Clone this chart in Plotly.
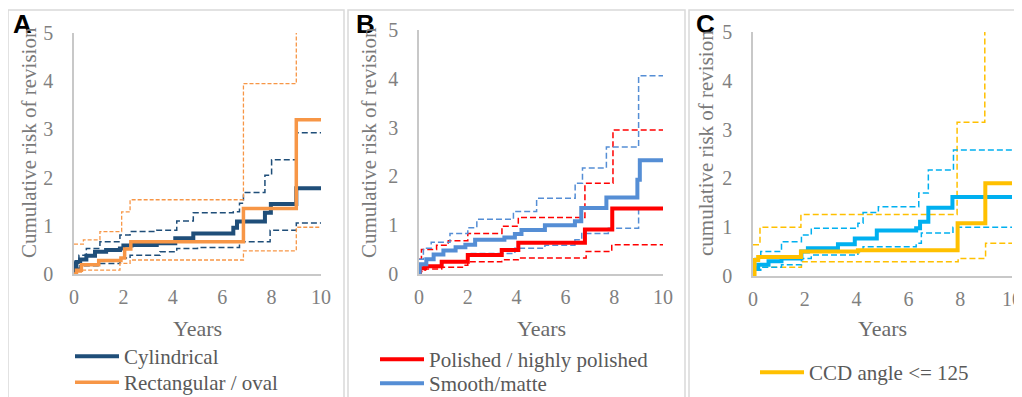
import plotly.graph_objects as go

# ---------------- data (years, cumulative risk of revision %) ----------------
# Panel A
cyl_t = [0, 0.05, 0.1, 0.25, 0.5, 0.85, 1.3, 1.86, 2.0, 2.33, 3.35, 4.1, 4.83, 6.45, 6.6, 7.73, 7.97, 9.0, 10]
cyl_y = [0, 0.15, 0.25, 0.3, 0.38, 0.46, 0.5, 0.53, 0.59, 0.6, 0.64, 0.74, 0.84, 0.96, 1.09, 1.27, 1.45, 1.78, 1.78]
cyl_hi_t = [0, 0.03, 0.2, 0.5, 1.05, 1.86, 2.27, 3.35, 4.16, 4.83, 6.45, 6.7, 6.86, 7.73, 8.0, 9.0, 10]
cyl_hi_y = [0, 0.25, 0.39, 0.53, 0.67, 0.81, 0.88, 0.91, 1.1, 1.27, 1.29, 1.47, 1.69, 2.05, 2.37, 2.93, 2.93]
cyl_lo_t = [0, 0.05, 0.24, 1.05, 1.86, 2.27, 3.48, 4.16, 5.0, 6.7, 7.94, 9.0, 10]
cyl_lo_y = [0, 0.12, 0.17, 0.22, 0.33, 0.39, 0.46, 0.53, 0.55, 0.67, 0.91, 1.06, 1.06]
rect_t = [0, 0.1, 0.3, 1.0, 1.9, 2.05, 2.3, 6.86, 9.0, 10]
rect_y = [0, 0.08, 0.19, 0.28, 0.33, 0.52, 0.67, 1.36, 3.2, 3.2]
rect_hi_t = [0, 0.38, 1.05, 1.93, 2.27, 6.86, 9.0, 10]
rect_hi_y = [0.62, 0.71, 0.88, 1.29, 1.54, 3.95, 5.4, 5.4]
rect_lo_t = [0, 0.1, 0.3, 1.86, 2.27, 6.86, 9.0, 10]
rect_lo_y = [0, 0.04, 0.08, 0.22, 0.29, 0.48, 0.97, 0.97]

# Panel B
pol_t = [0, 0.04, 0.25, 0.93, 2.0, 3.39, 4.07, 6.8, 7.92, 10]
pol_y = [0, 0.12, 0.16, 0.25, 0.39, 0.49, 0.64, 0.91, 1.34, 1.34]
pol_hi_t = [0, 0.1, 0.72, 1.2, 2.0, 3.4, 4.07, 6.8, 7.95, 10]
pol_hi_y = [0.3, 0.5, 0.59, 0.68, 0.83, 0.98, 1.16, 1.86, 2.95, 2.95]
pol_lo_t = [0, 0.04, 0.25, 0.93, 1.89, 2.0, 3.39, 4.07, 6.85, 7.9, 10]
pol_lo_y = [0, 0.05, 0.1, 0.14, 0.18, 0.25, 0.29, 0.33, 0.46, 0.6, 0.6]
smo_t = [0, 0.03, 0.3, 0.6, 1.0, 1.5, 1.9, 2.3, 3.5, 3.93, 4.2, 5.16, 6.39, 6.65, 7.68, 8.95, 9.05, 10]
smo_y = [0, 0.2, 0.3, 0.4, 0.48, 0.55, 0.6, 0.7, 0.75, 0.82, 0.9, 1.0, 1.08, 1.35, 1.57, 1.93, 2.33, 2.33]
smo_hi_t = [0, 0.18, 0.5, 1.27, 2.0, 2.37, 3.87, 4.82, 6.4, 6.7, 7.68, 9.0, 10]
smo_hi_y = [0.3, 0.53, 0.65, 0.83, 0.95, 1.12, 1.28, 1.55, 1.86, 2.17, 2.6, 4.06, 4.06]
smo_lo_t = [0, 0.04, 0.93, 2.0, 3.93, 5.16, 6.39, 6.67, 7.76, 9.0, 10]
smo_lo_y = [0, 0.14, 0.25, 0.42, 0.53, 0.59, 0.7, 0.83, 0.94, 1.34, 1.34]

# Panel C
le_t = [0, 0.06, 0.2, 1.85, 4.05, 7.9, 8.97, 10]
le_y = [0, 0.33, 0.39, 0.5, 0.53, 1.08, 1.9, 1.9]
le_hi_t = [0, 0.27, 1.85, 7.88, 8.95, 10]
le_hi_y = [0.64, 1.0, 1.26, 3.15, 5.4, 5.4]
le_lo_t = [0, 0.06, 0.2, 1.87, 7.92, 8.98, 10]
le_lo_y = [0, 0.12, 0.18, 0.29, 0.36, 0.67, 0.67]
gt_t = [0, 0.03, 0.2, 0.6, 1.1, 1.87, 2.12, 3.28, 3.93, 4.78, 6.3, 6.45, 6.77, 7.7, 10]
gt_y = [0, 0.16, 0.23, 0.3, 0.36, 0.5, 0.57, 0.65, 0.77, 0.93, 0.98, 1.11, 1.4, 1.62, 1.62]
gt_hi_t = [0, 0.03, 0.3, 1.1, 1.87, 2.25, 4.05, 4.25, 4.84, 6.4, 6.77, 7.74, 10]
gt_hi_y = [0.2, 0.36, 0.5, 0.7, 0.84, 0.98, 1.08, 1.3, 1.42, 1.7, 2.17, 2.58, 2.58]
gt_lo_t = [0, 0.03, 0.3, 1.1, 1.87, 2.25, 4.05, 4.25, 6.3, 6.5, 7.72, 10]
gt_lo_y = [0, 0.12, 0.18, 0.23, 0.36, 0.43, 0.5, 0.6, 0.67, 0.88, 1.0, 1.0]

x_ticks = [0, 2, 4, 6, 8, 10]
y_ticks = [0, 1, 2, 3, 4, 5]
panel_letters = ["A", "B", "C"]
y_titles = ["Cumulative risk of revision", "Cumulative risk of revision", "cumulative risk of revision"]
x_title = "Years"

# ---------------- styling ----------------
# the page body adds an 8px margin, so the figure is drawn 8px in from the window's corner
OFF = 8
W, H = 1022 - OFF, 397 - OFF
SERIF = "Liberation Serif"
C_CYL, C_RECT = "#1F4E79", "#F79646"
C_POL, C_SMO = "#FF0000", "#558ED5"
C_LE, C_GT = "#FFC000", "#00B0F0"
DASH = "6px,3px"

def px(x):
    return (x - OFF) / W

def py(y):
    return 1 - (y - OFF) / H

fig = go.Figure()

def add(t, y, color, width, axis, name=None, legend=None, dash=None):
    fig.add_trace(go.Scatter(
        x=t, y=y, mode="lines", line=dict(color=color, width=width, shape="hv", dash=dash),
        name=name, showlegend=name is not None, legend=legend,
        xaxis="x" + axis, yaxis="y" + axis, hoverinfo="skip"))

# Panel A
add(cyl_hi_t, cyl_hi_y, C_CYL, 1.5, "", dash=DASH)
add(cyl_lo_t, cyl_lo_y, C_CYL, 1.5, "", dash=DASH)
add(rect_hi_t, rect_hi_y, C_RECT, 1.3, "", dash="4px,2px")
add(rect_lo_t, rect_lo_y, C_RECT, 1.3, "", dash="4px,2px")
add(cyl_t, cyl_y, C_CYL, 4, "", name="Cylindrical", legend="legend")
add(rect_t, rect_y, C_RECT, 3.5, "", name="Rectangular / oval", legend="legend2")
# Panel B
add(pol_hi_t, pol_hi_y, C_POL, 1.5, "2", dash=DASH)
add(pol_lo_t, pol_lo_y, C_POL, 1.5, "2", dash=DASH)
add(smo_hi_t, smo_hi_y, C_SMO, 1.5, "2", dash=DASH)
add(smo_lo_t, smo_lo_y, C_SMO, 1.5, "2", dash=DASH)
add(pol_t, pol_y, C_POL, 4, "2", name="Polished / highly polished", legend="legend3")
add(smo_t, smo_y, C_SMO, 4, "2", name="Smooth/matte", legend="legend4")
# Panel C
add(le_hi_t, le_hi_y, C_LE, 1.5, "3", dash=DASH)
add(le_lo_t, le_lo_y, C_LE, 1.5, "3", dash=DASH)
add(gt_hi_t, gt_hi_y, C_GT, 1.5, "3", dash=DASH)
add(gt_lo_t, gt_lo_y, C_GT, 1.5, "3", dash=DASH)
add(gt_t, gt_y, C_GT, 4, "3")
add(le_t, le_y, C_LE, 4, "3", name="CCD angle <= 125", legend="legend5")

# plot areas in window pixels: (left, right, top(y=5), bottom(y=0))
areas = [(74, 321, 33, 274), (419, 663, 30, 274), (753, 1012, 32, 276)]
tickfont = dict(family=SERIF, size=20, color="#808080")
axis_common = dict(showgrid=False, zeroline=False, showline=True, linecolor="#c8c8c8",
                   linewidth=1.5, ticks="", tickfont=tickfont, fixedrange=True, automargin=False)
lay = {}
for i, (l, r, t, b) in enumerate(areas):
    sfx = "" if i == 0 else str(i + 1)
    lay["xaxis" + sfx] = dict(domain=[px(l), px(r)], range=[0, 10], tickvals=x_ticks,
                              anchor="y" + sfx, ticklabelstandoff=4, **axis_common)
    lay["yaxis" + sfx] = dict(domain=[py(b), py(t)], range=[0, 5], tickvals=y_ticks,
                              anchor="x" + sfx, ticklabelstandoff=15, **axis_common)
fig.update_layout(**lay)

annotations = []
letter_x = [11, 354, 694]
ytitle_x = [29, 369, 706]
for i, (l, r, t, b) in enumerate(areas):
    annotations.append(dict(text="<b>%s</b>" % panel_letters[i], x=px(letter_x[i]), y=py(7),
                            xref="paper", yref="paper", xanchor="left", yanchor="top", showarrow=False,
                            font=dict(family="Liberation Sans", size=26, color="#000000")))
    annotations.append(dict(text=y_titles[i], x=px(ytitle_x[i]), y=py(143), textangle=-90,
                            xref="paper", yref="paper", xanchor="center", yanchor="middle", showarrow=False,
                            font=dict(family=SERIF, size=21, color="#7a7a7a")))
    annotations.append(dict(text=x_title, x=px((l + r) / 2), y=py(328),
                            xref="paper", yref="paper", xanchor="center", yanchor="middle", showarrow=False,
                            font=dict(family=SERIF, size=22, color="#6a6a6a")))

shapes = []
for (x0, x1) in [(8, 344), (348, 685), (689, 1040)]:
    shapes.append(dict(type="rect", xref="paper", yref="paper", x0=px(x0), x1=px(x1),
                       y0=-0.1, y1=py(10), line=dict(color="#d9d9d9", width=1.5), layer="below"))

legfont = dict(family=SERIF, size=21, color="#595959")
leg_common = dict(font=legfont, bgcolor="rgba(0,0,0,0)", xanchor="left", yanchor="top",
                  tracegroupgap=0, itemwidth=44)
fig.update_layout(
    width=W, height=H, margin=dict(l=0, r=0, t=0, b=0, autoexpand=False),
    paper_bgcolor="white", plot_bgcolor="white",
    annotations=annotations, shapes=shapes,
    legend=dict(x=px(70), y=py(336), **leg_common),
    legend2=dict(x=px(70), y=py(362), **leg_common),
    legend3=dict(x=px(375), y=py(339), **leg_common),
    legend4=dict(x=px(375), y=py(363), **leg_common),
    legend5=dict(x=px(755), y=py(352), **leg_common),
)

fig.write_html("out.html")
